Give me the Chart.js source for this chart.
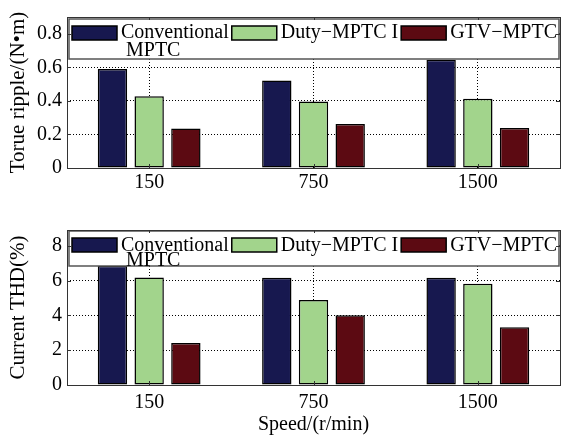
<!DOCTYPE html>
<html>
<head>
<meta charset="utf-8">
<script src="https://cdn.jsdelivr.net/npm/chart.js@4.4.1/dist/chart.umd.min.js"></script>
<style>
  body { margin: 0; background: #fff; }
  #wrap { position: relative; width: 563px; height: 437px; }
  canvas { position: absolute; left: 0; }
  #torque { top: 0; }
  #thd { top: 210px; }
</style>
</head>
<body>
<div id="wrap">
  <canvas id="torque" width="563" height="210"></canvas>
  <canvas id="thd" width="563" height="227"></canvas>
</div>
<script>
const speeds = ['150', '750', '1500'];
const methodNames = [['Conventional', 'MPTC'], 'Duty\u2212MPTC I', 'GTV\u2212MPTC'];
const methodColors = ['#17184f', '#a2d48c', '#5c0a12'];

const torqueConv = [0.59, 0.521, 0.645];
const torqueDuty = [0.427, 0.396, 0.413];
const torqueGtv = [0.235, 0.262, 0.238];
const torqueTicks = [0, 0.2, 0.4, 0.6, 0.8];

const thdConv = [6.85, 6.16, 6.16];
const thdDuty = [6.17, 4.88, 5.81];
const thdGtv = [2.41, 4.0, 3.32];
const thdTicks = [0, 2, 4, 6, 8];

Chart.defaults.font.family = '"Liberation Serif", "Times New Roman", serif';
Chart.defaults.font.size = 20;
Chart.defaults.color = '#000';

// legend box drawn inside the plot area, over the bars
function boxLegend(opt) {
  return {
    id: 'boxLegend',
    afterDatasetsDraw(chart) {
      const ctx = chart.ctx;
      const a = chart.chartArea;
      const x0 = a.left + 2, y0 = a.top + opt.dy;
      const w = a.right - 1 - x0;
      ctx.save();
      ctx.fillStyle = '#fff';
      ctx.fillRect(x0, y0, w, opt.h);
      ctx.strokeStyle = '#555';
      ctx.lineWidth = 1.5;
      ctx.strokeRect(x0, y0, w, opt.h);
      ctx.font = '20px "Liberation Serif"';
      ctx.textBaseline = 'alphabetic';
      let x = x0 + 3;
      chart.data.datasets.forEach(ds => {
        const lines = [].concat(ds.label);
        ctx.fillStyle = ds.backgroundColor;
        ctx.fillRect(x, y0 + 7, 45, 14);
        ctx.strokeStyle = '#000';
        ctx.lineWidth = 1.5;
        ctx.strokeRect(x, y0 + 7, 45, 14);
        x += 49;
        ctx.fillStyle = '#000';
        lines.forEach((t, i) => ctx.fillText(t, x + (i ? 5 : 0), y0 + opt.base + i * opt.lh));
        x += ctx.measureText(lines[0]).width + 3;
      });
      ctx.restore();
    }
  };
}

// box frame and small inward ticks
const frame = {
  id: 'frame',
  afterDraw(chart) {
    const ctx = chart.ctx;
    const a = chart.chartArea;
    const xs = chart.scales.x, ys = chart.scales.y;
    ctx.save();
    ctx.strokeStyle = '#333';
    ctx.lineWidth = 1;
    ctx.setLineDash([]);
    ctx.beginPath();
    xs.ticks.forEach((t, i) => {
      const px = Math.round(xs.getPixelForTick(i)) + 0.5;
      ctx.moveTo(px, a.bottom); ctx.lineTo(px, a.bottom - 4);
      ctx.moveTo(px, a.top); ctx.lineTo(px, a.top + 3);
    });
    ys.ticks.forEach(t => {
      const py = Math.round(ys.getPixelForValue(t.value)) + 0.5;
      ctx.moveTo(a.left, py); ctx.lineTo(a.left + 4, py);
      ctx.moveTo(a.right, py); ctx.lineTo(a.right - 4, py);
    });
    ctx.stroke();
    ctx.strokeRect(Math.round(a.left) + 0.5, Math.round(a.top) + 0.5,
      Math.round(a.right - a.left), Math.round(a.bottom - a.top));
    ctx.restore();
  }
};

function makeChart(id, series, ticks, yMax, yTitle, xTitle, opt) {
  new Chart(document.getElementById(id), {
    type: 'bar',
    data: {
      labels: speeds,
      datasets: series.map((d, i) => ({
        label: methodNames[i],
        data: d,
        backgroundColor: methodColors[i],
        borderColor: '#000',
        borderWidth: 1.5,
        borderSkipped: false,
        categoryPercentage: 0.67,
        barPercentage: 0.8,
      })),
    },
    options: {
      responsive: false,
      animation: false,
      layout: { padding: { top: opt.top, right: 3, left: 0, bottom: 0 } },
      plugins: { legend: { display: false }, tooltip: { enabled: false } },
      scales: {
        x: {
          grid: { offset: false, drawTicks: false, color: '#000', lineWidth: 1 },
          border: { display: false, dash: [1, 2] },
          ticks: { padding: opt.xPad, color: '#000' },
          title: { display: !!xTitle, text: xTitle, padding: 0, color: '#000' },
          afterFit: s => { s.height = opt.xh; },
        },
        y: {
          min: 0,
          max: yMax,
          grid: { drawTicks: false, color: '#000', lineWidth: 1 },
          border: { display: false, dash: [1, 2] },
          ticks: { padding: 5, color: '#000', callback: v => String(v) },
          afterBuildTicks: s => { s.ticks = ticks.map(v => ({ value: v })); },
          title: { display: true, text: yTitle, font: { size: 21 }, padding: { top: 6, bottom: 0 }, color: '#000' },
          afterFit: s => { s.width = 67; },
        },
      },
    },
    plugins: [boxLegend(opt), frame],
  });
}

makeChart('torque', [torqueConv, torqueDuty, torqueGtv], torqueTicks, 0.9,
  'Torue ripple/(N\u2022m)', '', { top: 13, xh: 42, xPad: 3, dy: 2, h: 40, base: 19, lh: 18 });
makeChart('thd', [thdConv, thdDuty, thdGtv], thdTicks, 8.9,
  'Current THD(%)', 'Speed/(r/min)', { top: 20, xh: 52, xPad: 6, dy: 1, h: 35, base: 20, lh: 15 });
</script>
</body>
</html>
